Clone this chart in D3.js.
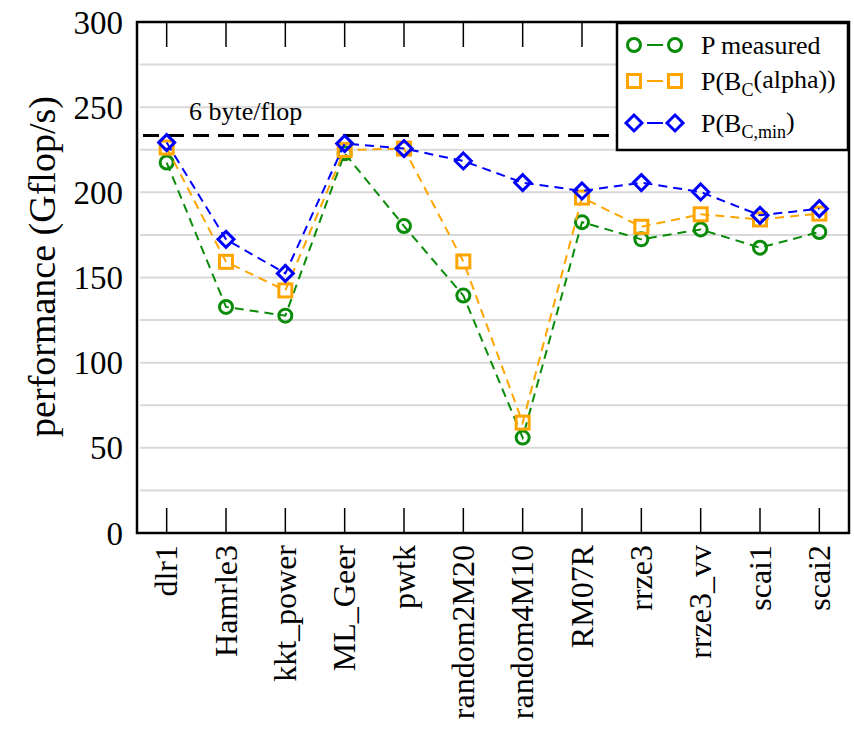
<!DOCTYPE html>
<html lang="en">
<head>
<meta charset="utf-8">
<title>performance</title>
<script src="https://cdnjs.cloudflare.com/ajax/libs/d3/7.8.5/d3.min.js"></script>
<style>
  html, body { margin: 0; padding: 0; background: #fff; }
</style>
</head>
<body>
<div id="chart"></div>
<script>
// data
const categories = ["dlr1", "Hamrle3", "kkt_power", "ML_Geer", "pwtk", "random2M20",
  "random4M10", "RM07R", "rrze3", "rrze3_vv", "scai1", "scai2"];
const pMeasured = [217.5, 132.7, 127.6, 222.9, 180.2, 139.4, 56.0, 182.5, 172.4, 178.2, 167.5, 176.7];
const pAlpha    = [226.3, 159.2, 142.4, 224.9, 225.7, 159.4, 64.8, 196.9, 179.8, 187.1, 184.1, 187.5];
const pMin      = [229.2, 172.4, 152.4, 228.6, 225.7, 218.4, 205.7, 200.8, 205.7, 200.2, 186.5, 190.4];
const yTicks = [0, 50, 100, 150, 200, 250, 300];
const gridLines = [25, 50, 75, 100, 125, 150, 175, 200, 225, 250, 275];
const limitValue = 233.3;
const limitLabel = "6 byte/flop";

const W = 854, H = 735;
const margin = {top: 22, right: 5, bottom: 202, left: 137};
const width = W - margin.left - margin.right,
      height = H - margin.top - margin.bottom;
const FONT = "Liberation Serif";

const svg = d3.select("#chart").append("svg")
  .attr("width", W).attr("height", H);
svg.append("rect").attr("width", W).attr("height", H).attr("fill", "#fff");

const g = svg.append("g")
  .attr("transform", "translate(" + margin.left + "," + margin.top + ")");

const x = d3.scalePoint().domain(categories).range([0, width]).padding(0.5);
const y = d3.scaleLinear().domain([0, 300]).range([height, 0]);

// grid
g.selectAll(".grid").data(gridLines).enter().append("line")
  .attr("x1", 3).attr("x2", width)
  .attr("y1", d => y(d)).attr("y2", d => y(d))
  .attr("stroke", "#d9d9d9").attr("stroke-width", 2);

// ticks top & bottom (x axis)
const tickLen = 25;
g.selectAll(".tb").data(categories).enter().append("line")
  .attr("x1", d => x(d)).attr("x2", d => x(d))
  .attr("y1", height).attr("y2", height - tickLen)
  .attr("stroke", "#000").attr("stroke-width", 1.5);
g.selectAll(".tt").data(categories).enter().append("line")
  .attr("x1", d => x(d)).attr("x2", d => x(d))
  .attr("y1", 0).attr("y2", tickLen)
  .attr("stroke", "#000").attr("stroke-width", 1.5);

// x labels
g.selectAll(".xl").data(categories).enter().append("text")
  .attr("transform", d => "translate(" + x(d) + "," + (height + 12) + ") rotate(-90)")
  .attr("text-anchor", "end")
  .attr("dy", "0.33em")
  .attr("font-family", FONT)
  .attr("font-size", 32)
  .text(d => d);

// y labels
g.selectAll(".yl").data(yTicks).enter().append("text")
  .attr("x", -14).attr("y", d => y(d))
  .attr("dy", "0.35em")
  .attr("text-anchor", "end")
  .attr("font-family", FONT)
  .attr("font-size", 33)
  .text(d => d);

// y title
g.append("text")
  .attr("transform", "translate(" + (-82) + "," + (height / 2 - 11) + ") rotate(-90)")
  .attr("text-anchor", "middle")
  .attr("font-family", FONT)
  .attr("font-size", 38)
  .text("performance (Gflop/s)");

// 6 byte/flop line
g.append("line")
  .attr("x1", 6).attr("x2", width)
  .attr("y1", y(limitValue)).attr("y2", y(limitValue))
  .attr("stroke", "#000").attr("stroke-width", 3)
  .attr("stroke-dasharray", "16,9");
g.append("text")
  .attr("x", 52).attr("y", y(limitValue) - 16)
  .attr("font-family", FONT)
  .attr("font-size", 26)
  .text(limitLabel);

// series
const series = [
  {name: "meas", values: pMeasured, color: "#0a8c0a", shape: "circle"},
  {name: "alpha", values: pAlpha, color: "#ffa500", shape: "square"},
  {name: "min", values: pMin, color: "#0000ff", shape: "diamond"}
];

function marker(sel, shape, color) {
  if (shape === "circle") {
    sel.append("circle").attr("r", 6.5);
  } else if (shape === "square") {
    sel.append("rect").attr("x", -6.5).attr("y", -6.5).attr("width", 13).attr("height", 13);
  } else {
    sel.append("path").attr("d", "M0,-8L8,0L0,8L-8,0Z");
  }
  sel.selectAll("*").attr("fill", "none").attr("stroke", color).attr("stroke-width", 3);
}

const line = d3.line().x((d, i) => x(categories[i])).y(d => y(d));

series.forEach(s => {
  g.append("path").datum(s.values)
    .attr("d", line)
    .attr("fill", "none")
    .attr("stroke", s.color)
    .attr("stroke-width", 2)
    .attr("stroke-dasharray", "9,6");
  s.values.forEach((v, i) => {
    const m = g.append("g").attr("transform", "translate(" + x(categories[i]) + "," + y(v) + ")");
    marker(m, s.shape, s.color);
  });
});

// frame
g.append("rect")
  .attr("width", width).attr("height", height)
  .attr("fill", "none").attr("stroke", "#000").attr("stroke-width", 2.5);

// legend
const lg = g.append("g").attr("transform", "translate(" + (617 - margin.left) + ",1)")
  .attr("font-family", FONT);
lg.append("rect").attr("width", 231).attr("height", 127)
  .attr("fill", "#fff").attr("stroke", "#000").attr("stroke-width", 2.5);
const legendRows = [
  {s: series[0], y: 22},
  {s: series[1], y: 58},
  {s: series[2], y: 100}
];
legendRows.forEach(r => {
  lg.append("line").attr("x1", 30).attr("x2", 46)
    .attr("y1", r.y).attr("y2", r.y)
    .attr("stroke", r.s.color).attr("stroke-width", 2);
  marker(lg.append("g").attr("transform", "translate(17," + r.y + ")"), r.s.shape, r.s.color);
  marker(lg.append("g").attr("transform", "translate(58," + r.y + ")"), r.s.shape, r.s.color);
});
const lt1 = lg.append("text").attr("x", 84).attr("y", 22).attr("dy", "0.35em").attr("font-size", 26);
lt1.text("P measured");
const lt2 = lg.append("text").attr("x", 84).attr("y", 58).attr("dy", "0.35em").attr("font-size", 26);
lt2.append("tspan").text("P(B");
lt2.append("tspan").attr("font-size", 18).attr("dy", "0.3em").text("C");
lt2.append("tspan").attr("dy", "-0.3em").text("(alpha))");
const lt3 = lg.append("text").attr("x", 84).attr("y", 100).attr("dy", "0.35em").attr("font-size", 26);
lt3.append("tspan").text("P(B");
lt3.append("tspan").attr("font-size", 18).attr("dy", "0.3em").text("C,min");
lt3.append("tspan").attr("dy", "-0.3em").text(")");
</script>
</body>
</html>
